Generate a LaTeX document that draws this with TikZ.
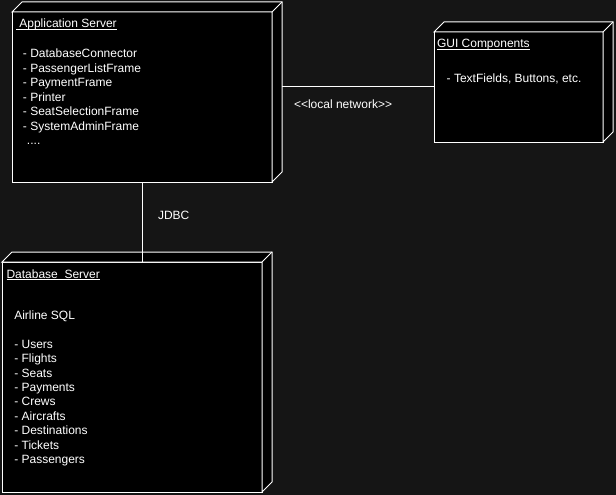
\documentclass[tikz,border=0pt]{standalone}
\usepackage{fontspec}
\setmainfont{Liberation Sans}
\usetikzlibrary{calc}
\definecolor{bg}{HTML}{151515}
\begin{document}
\begin{tikzpicture}[x=1pt,y=-1pt,
  nodebox/.style={draw=white, fill=black, line width=1pt, inner sep=0pt, outer sep=0pt, rectangle},
  face/.style={draw=white, fill=black, line width=1pt},
  lbl/.style={text=white, anchor=base west, inner sep=0pt, outer sep=0pt, font=\fontsize{12}{14.4}\selectfont},
  uline/.style={draw=white, line width=0.8pt},
  conn/.style={draw=white, line width=1pt}]
\fill[bg] (0,0) rectangle (616,495);
\useasboundingbox (0,0) rectangle (616,495);

% Application Server
\node[nodebox, minimum width=260pt, minimum height=170pt] (app) at (142,97) {};
\filldraw[face] (app.north west) -- ++(10,-10) -- ($(app.north east)+(10,-10)$) -- ($(app.south east)+(10,-10)$) -- (app.south east) -- (app.north east) -- cycle;
\draw[face] (app.north east) -- ++(10,-10);

% GUI Components
\node[nodebox, minimum width=169pt, minimum height=110pt] (gui) at (518.5,87) {};
\filldraw[face] (gui.north west) -- ++(10,-10) -- ($(gui.north east)+(10,-10)$) -- ($(gui.south east)+(10,-10)$) -- (gui.south east) -- (gui.north east) -- cycle;
\draw[face] (gui.north east) -- ++(10,-10);

% Database Server
\node[nodebox, minimum width=260pt, minimum height=230pt] (db) at (132,377) {};
\filldraw[face] (db.north west) -- ++(10,-10) -- ($(db.north east)+(10,-10)$) -- ($(db.south east)+(10,-10)$) -- (db.south east) -- (db.north east) -- cycle;
\draw[face] (db.north east) -- ++(10,-10);

% connectors
\draw[conn] (app.south) -- (app.south |- db.north);
\coordinate (appside) at ($(app.north east)+(10,0)$);
\draw[conn] (gui.west) -- (gui.west -| appside);
\node[lbl] (jdbc) at (158,219) {JDBC};
\node[lbl] (lan) at (294,108.7) {{<}{<}local network{>}{>}};

% Application Server texts
\node[lbl] (t1) at (16,28) {\ Application Server};
\draw[uline] ($(t1.base west)+(0,1.5)$) -- ($(t1.base east)+(0,1.5)$);
\node[lbl] (a1) at (23,58) {- DatabaseConnector};
\node[lbl] (a2) at (23,72.4) {- PassengerListFrame};
\node[lbl] (a3) at (23,86.8) {- PaymentFrame};
\node[lbl] (a4) at (23,101.2) {- Printer};
\node[lbl] (a5) at (23,115.6) {- SeatSelectionFrame};
\node[lbl] (a6) at (23,130) {- SystemAdminFrame};
\node[lbl] (a7) at (27,144.4) {....};

% GUI texts
\node[lbl] (t2) at (437,48) {GUI Components};
\draw[uline] ($(t2.base west)+(0,1.5)$) -- ($(t2.base east)+(0,1.5)$);
\node[lbl] (g1) at (446.7,82.7) {- TextFields, Buttons, etc.};

% Database texts
\node[lbl] (t3) at (6.5,278) {Database\ \ Server};
\draw[uline] ($(t3.base west)+(0,1.5)$) -- ($(t3.base east)+(0,1.5)$);
\node[lbl] (d0) at (14.3,319.3) {Airline SQL};
\node[lbl] (d1) at (14.3,348.3) {- Users};
\node[lbl] (d2) at (14.3,362.7) {- Flights};
\node[lbl] (d3) at (14.3,377.1) {- Seats};
\node[lbl] (d4) at (14.3,391.5) {- Payments};
\node[lbl] (d5) at (14.3,405.9) {- Crews};
\node[lbl] (d6) at (14.3,420.3) {- Aircrafts};
\node[lbl] (d7) at (14.3,434.7) {- Destinations};
\node[lbl] (d8) at (14.3,449.1) {- Tickets};
\node[lbl] (d9) at (14.3,463.5) {- Passengers};
\end{tikzpicture}
\end{document}
